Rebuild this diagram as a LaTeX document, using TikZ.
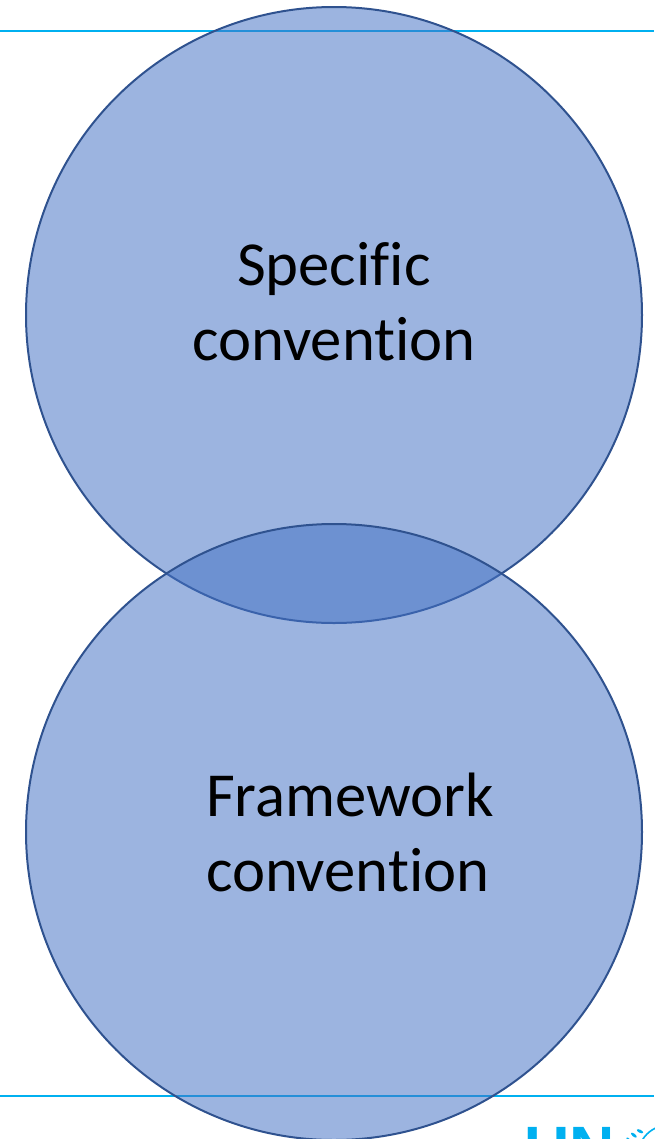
\documentclass[tikz,border=0pt]{standalone}
\usepackage{fontspec}
\setmainfont[Ligatures={NoCommon,NoContextual}]{Carlito}
\newfontfamily\logofont{Liberation Sans}
\definecolor{rulecyan}{HTML}{00B0F0}
\definecolor{circfill}{HTML}{4472C4}
\definecolor{circline}{HTML}{2F528F}
\begin{document}
\begin{tikzpicture}[x=0.75pt,y=-0.75pt,
  venn/.style={circle, minimum size=462pt, inner sep=0pt, fill=circfill, fill opacity=0.53, draw=circline, draw opacity=1, line width=1.5pt},
  label text/.style={font=\fontsize{47}{56.25}\selectfont, text=black, inner sep=0pt},
  rule/.style={draw=rulecyan, line width=2pt}]
\useasboundingbox (0,0) rectangle (654,1139);
\coordinate (l1) at (0,31);
\coordinate (r1) at (654,31);
\coordinate (l2) at (0,1096);
\coordinate (r2) at (654,1096);
\draw[rule] (l1) -- (r1);
\draw[rule] (l2) -- (r2);
\node[venn] (top) at (334,315) {};
\node[venn] (bot) at (334,832) {};
\node[label text, align=center] (ttext) at (334,302) {Specific\\convention};
\node[label text, align=left] (btext) at (350,832) {Framework\\convention};
\node[anchor=base west, inner sep=0pt, text=rulecyan, font=\logofont\bfseries\fontsize{47}{47}\selectfont] (logo) at (524,1170) {UN};
\draw[rulecyan, line width=1.2pt] (640,1145) arc[start angle=200, end angle=250, radius=30] coordinate (w1);
\foreach \a in {205,218,231,244} {
  \fill[rulecyan] (654,1160) ++(\a:32) ellipse[x radius=3.5, y radius=1.5, rotate=\a+90];
}
\end{tikzpicture}
\end{document}
